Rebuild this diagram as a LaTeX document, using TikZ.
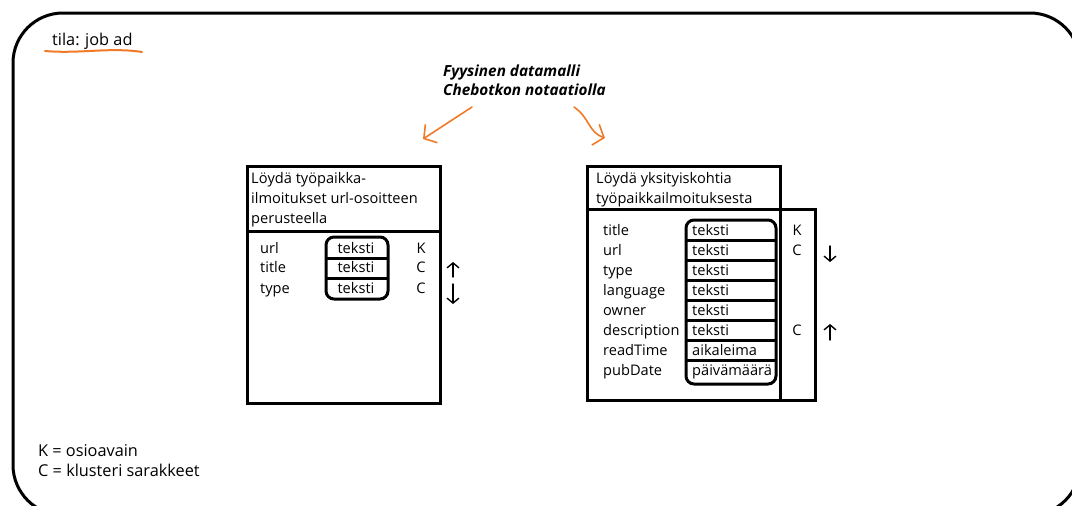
\documentclass[tikz,border=0pt]{standalone}
\usepackage{fontspec}
\setmainfont{Open Sans}
\usepackage{tikz}
\usetikzlibrary{positioning,arrows.meta,calc}
\definecolor{penorange}{RGB}{240,122,40}

\begin{document}
\begin{tikzpicture}[x=1pt,y=-1pt,
  tline/.style={line width=3pt},
  tytype/.style={line width=3pt,rounded corners=8pt},
  txt/.style={font=\fontsize{14.6}{19}\selectfont,inner sep=0pt,anchor=west,text height=11pt,text depth=3pt},
  leg/.style={font=\fontsize{16.3}{20}\selectfont,inner sep=0pt,anchor=west,text height=12pt,text depth=3.5pt},
  hdr/.style={font=\fontsize{14.6}{20}\selectfont,inner sep=0pt,anchor=north west,align=left},
  ttl/.style={font=\fontsize{15.3}{19}\selectfont\bfseries\itshape,inner sep=0pt,anchor=north west,align=left},
  pen/.style={penorange,line width=1.6pt,line cap=round,-{Straight Barb[length=9pt,width=22pt]}},
  updown/.style={line width=1.4pt,line cap=round,-{Straight Barb[length=5pt,width=12pt]}}
]
\useasboundingbox (0,0) rectangle (1072,506);

% outer frame
\draw[line width=3pt,rounded corners=50pt] (13,13) rectangle (1080,515);

% state label
\node[leg] (tila) at (52,41) {tila: job ad};
\draw[penorange,line width=2pt,line cap=round] (45,51) .. controls (80,54) and (110,47) .. (142,52);

% title and pen arrows
\node[ttl] (title) at (443,65) {Fyysinen datamalli\\Chebotkon notaatiolla};
\coordinate (lft) at (423,139);
\coordinate (rgt) at (605,138);
\draw[pen] (472,107) -- (lft);
\draw[pen] (574,107) .. controls (590,118) and (588,132) .. (rgt);

% left table
\draw[tline] (247,166) rectangle (440,403);
\draw[tline] (247,231) -- (440,231);
\node[hdr] (h1) at (251,172) {Löydä työpaikka-\\ilmoitukset url-osoitteen\\perusteella};
\draw[tytype] (326,237) rectangle (388,299);
\draw[tline] (326,258) -- (388,258);
\draw[tline] (326,278) -- (388,278);
\foreach \nm/\y/\kc [count=\i] in {url/249/K,title/268/C,type/289/C}{
  \node[txt] (l\i) at (260,\y) {\nm};
  \node[txt,anchor=center] (lt\i) at (356,\y) {teksti};
  \node[txt,anchor=center] (lk\i) at (421,\y) {\kc};
}
\coordinate (lu1) at (453,277);
\coordinate (lu2) at (453,262);
\coordinate (ld1) at (453,284);
\coordinate (ld2) at (453,304);
\draw[updown] (lu1) -- (lu2);
\draw[updown] (ld1) -- (ld2);

% right table
\draw[tline] (587,166) rectangle (780,400);
\draw[tline] (587,209) -- (815,209) -- (815,400) -- (780,400);
\node[hdr] (h2) at (596,172) {Löydä yksityiskohtia\\työpaikkailmoituksesta};
\draw[tytype] (686,220) rectangle (776,384);
\foreach \y in {240,260,...,360}{
  \draw[tline] (686,\y) -- (776,\y);
}
\foreach \nm/\ty [count=\i] in {title/teksti,url/teksti,type/teksti,language/teksti,owner/teksti,description/teksti,readTime/aikaleima,pubDate/päivämäärä}{
  \node[txt] (r\i) at (603,{211+20*\i}) {\nm};
  \node[txt] (rt\i) at (692,{211+20*\i}) {\ty};
}
\node[txt,anchor=center] (rk1) at (797,231) {K};
\node[txt,anchor=center] (rk2) at (797,251) {C};
\node[txt,anchor=center] (rk6) at (797,331) {C};
\coordinate (rd1) at (830,246);
\coordinate (rd2) at (830,262);
\coordinate (ru1) at (830,340);
\coordinate (ru2) at (830,324);
\draw[updown] (rd1) -- (rd2);
\draw[updown] (ru1) -- (ru2);

% legend
\node[leg] (kleg) at (38,452) {K = osioavain};
\node[leg] (cleg) at (38,472) {C = klusteri sarakkeet};
\end{tikzpicture}
\end{document}
